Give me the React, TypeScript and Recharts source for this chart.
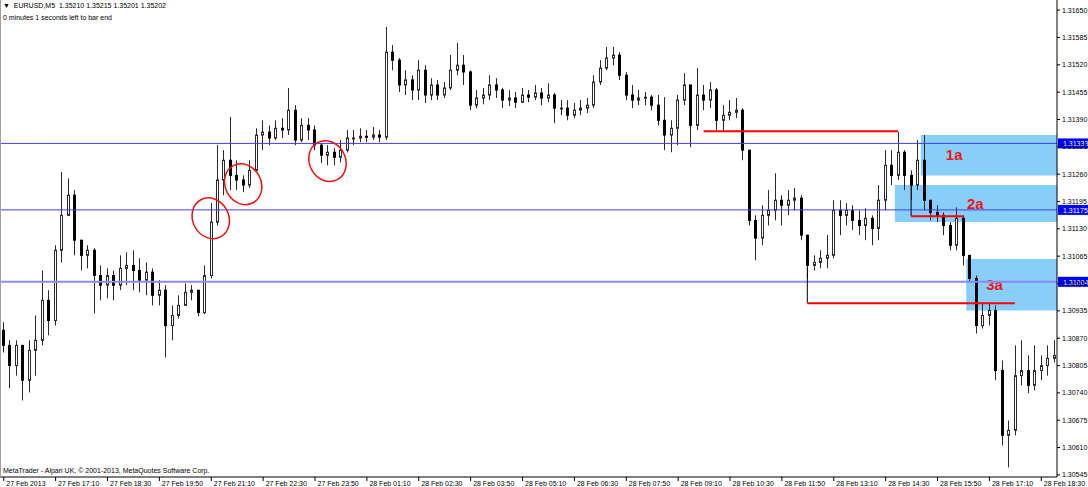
import {
  ComposedChart,
  Bar,
  XAxis,
  YAxis,
  ReferenceLine,
  ReferenceArea,
  ReferenceDot,
} from "recharts";

document.body.style.margin = "0";

// EURUSD bars (10 minute buckets)
const opens = [
  1.30889, 1.30853, 1.30805, 1.30853, 1.30770, 1.30841, 1.30865, 1.30960, 1.30912, 1.31079,
  1.31162, 1.31210, 1.31103, 1.31067, 1.31079, 1.31019, 1.30996, 1.31019, 1.30996, 1.31036,
  1.31043, 1.31031, 1.31008, 1.31027, 1.30972, 1.30984, 1.30900, 1.30924, 1.30948, 1.30979,
  1.30984, 1.30931, 1.31019, 1.31146, 1.31246, 1.31293, 1.31257, 1.31246, 1.31234, 1.31269,
  1.31353, 1.31360, 1.31346, 1.31369, 1.31365, 1.31412, 1.31341, 1.31376, 1.31365, 1.31329,
  1.31305, 1.31312, 1.31300, 1.31317, 1.31346, 1.31346, 1.31350, 1.31348, 1.31353, 1.31348,
  1.31550, 1.31531, 1.31472, 1.31484, 1.31460, 1.31507, 1.31448, 1.31472, 1.31448, 1.31465,
  1.31507, 1.31519, 1.31503, 1.31424, 1.31441, 1.31448, 1.31472, 1.31460, 1.31436, 1.31441,
  1.31431, 1.31448, 1.31443, 1.31453, 1.31441, 1.31448, 1.31417, 1.31417, 1.31400, 1.31412,
  1.31417, 1.31424, 1.31479, 1.31512, 1.31536, 1.31543, 1.31495, 1.31448, 1.31436, 1.31441,
  1.31443, 1.31424, 1.31388, 1.31353, 1.31369, 1.31436, 1.31472, 1.31376, 1.31448, 1.31436,
  1.31460, 1.31388, 1.31400, 1.31407, 1.31412, 1.31317, 1.31150, 1.31108, 1.31162, 1.31174,
  1.31198, 1.31186, 1.31198, 1.31203, 1.31115, 1.31043, 1.31050, 1.31060, 1.31067, 1.31174,
  1.31162, 1.31174, 1.31150, 1.31138, 1.31155, 1.31131, 1.31198, 1.31281, 1.31257, 1.31312,
  1.31257, 1.31234, 1.31293, 1.31198, 1.31169, 1.31162, 1.31138, 1.31091, 1.31155, 1.31067,
  1.31012, 1.30900, 1.30924, 1.30936, 1.30793, 1.30639, 1.30651, 1.30781, 1.30793, 1.30758,
  1.30793, 1.30805, 1.30822,
];
const highs = [
  1.30908, 1.30865, 1.30865, 1.30853, 1.30865, 1.30924, 1.31031, 1.30984, 1.31091, 1.31265,
  1.31250, 1.31222, 1.31103, 1.31091, 1.31084, 1.31043, 1.31036, 1.31031, 1.31067, 1.31074,
  1.31079, 1.31060, 1.31050, 1.31036, 1.31008, 1.30996, 1.30948, 1.30972, 1.31000, 1.30996,
  1.30984, 1.31043, 1.31191, 1.31329, 1.31317, 1.31396, 1.31293, 1.31257, 1.31293, 1.31369,
  1.31388, 1.31376, 1.31388, 1.31393, 1.31465, 1.31424, 1.31393, 1.31393, 1.31376, 1.31334,
  1.31329, 1.31322, 1.31341, 1.31365, 1.31365, 1.31369, 1.31365, 1.31372, 1.31365, 1.31610,
  1.31567, 1.31536, 1.31507, 1.31495, 1.31531, 1.31519, 1.31488, 1.31484, 1.31479, 1.31543,
  1.31572, 1.31543, 1.31507, 1.31460, 1.31465, 1.31495, 1.31488, 1.31465, 1.31460, 1.31455,
  1.31465, 1.31460, 1.31472, 1.31465, 1.31476, 1.31453, 1.31436, 1.31436, 1.31429, 1.31436,
  1.31441, 1.31495, 1.31531, 1.31562, 1.31562, 1.31550, 1.31503, 1.31472, 1.31460, 1.31455,
  1.31448, 1.31448, 1.31443, 1.31388, 1.31448, 1.31500, 1.31472, 1.31512, 1.31472, 1.31479,
  1.31465, 1.31424, 1.31436, 1.31441, 1.31417, 1.31317, 1.31162, 1.31186, 1.31222, 1.31262,
  1.31210, 1.31222, 1.31227, 1.31210, 1.31115, 1.31067, 1.31079, 1.31115, 1.31198, 1.31198,
  1.31191, 1.31186, 1.31174, 1.31179, 1.31162, 1.31234, 1.31317, 1.31317, 1.31360, 1.31317,
  1.31269, 1.31341, 1.31353, 1.31198, 1.31186, 1.31169, 1.31146, 1.31181, 1.31162, 1.31067,
  1.31019, 1.30953, 1.30955, 1.30948, 1.30817, 1.30674, 1.30853, 1.30865, 1.30829, 1.30853,
  1.30829, 1.30853, 1.30865,
];
const lows = [
  1.30836, 1.30751, 1.30781, 1.30722, 1.30741, 1.30781, 1.30853, 1.30877, 1.30900, 1.31050,
  1.31162, 1.31067, 1.31031, 1.31036, 1.30929, 1.30960, 1.30965, 1.30960, 1.30984, 1.30996,
  1.30984, 1.30979, 1.30972, 1.30948, 1.30948, 1.30824, 1.30865, 1.30917, 1.30948, 1.30960,
  1.30922, 1.30927, 1.31012, 1.31138, 1.31210, 1.31222, 1.31222, 1.31217, 1.31227, 1.31265,
  1.31317, 1.31329, 1.31341, 1.31346, 1.31353, 1.31329, 1.31336, 1.31341, 1.31317, 1.31286,
  1.31281, 1.31281, 1.31288, 1.31312, 1.31329, 1.31336, 1.31336, 1.31341, 1.31336, 1.31341,
  1.31507, 1.31455, 1.31448, 1.31436, 1.31436, 1.31429, 1.31436, 1.31436, 1.31441, 1.31460,
  1.31495, 1.31472, 1.31412, 1.31417, 1.31426, 1.31436, 1.31441, 1.31417, 1.31422, 1.31417,
  1.31429, 1.31431, 1.31436, 1.31424, 1.31431, 1.31381, 1.31400, 1.31388, 1.31393, 1.31400,
  1.31405, 1.31417, 1.31472, 1.31507, 1.31519, 1.31484, 1.31436, 1.31417, 1.31424, 1.31424,
  1.31412, 1.31376, 1.31317, 1.31312, 1.31329, 1.31424, 1.31324, 1.31365, 1.31412, 1.31417,
  1.31365, 1.31360, 1.31388, 1.31393, 1.31293, 1.31138, 1.31055, 1.31091, 1.31138, 1.31150,
  1.31138, 1.31162, 1.31174, 1.31103, 1.31012, 1.31031, 1.31036, 1.31036, 1.31060, 1.31115,
  1.31138, 1.31127, 1.31115, 1.31103, 1.31091, 1.31103, 1.31174, 1.31234, 1.31246, 1.31222,
  1.31198, 1.31222, 1.31174, 1.31150, 1.31146, 1.31115, 1.31079, 1.31079, 1.31043, 1.31003,
  1.30881, 1.30893, 1.30900, 1.30770, 1.30615, 1.30563, 1.30639, 1.30758, 1.30739, 1.30746,
  1.30770, 1.30781, 1.30812,
];
const closes = [
  1.30853, 1.30805, 1.30853, 1.30770, 1.30841, 1.30865, 1.30960, 1.30912, 1.31079, 1.31162,
  1.31210, 1.31103, 1.31067, 1.31079, 1.31019, 1.30996, 1.31019, 1.30996, 1.31036, 1.31043,
  1.31031, 1.31008, 1.31027, 1.30972, 1.30984, 1.30900, 1.30924, 1.30948, 1.30979, 1.30984,
  1.30931, 1.31019, 1.31146, 1.31246, 1.31293, 1.31257, 1.31246, 1.31234, 1.31269, 1.31353,
  1.31360, 1.31346, 1.31369, 1.31365, 1.31412, 1.31341, 1.31376, 1.31365, 1.31329, 1.31305,
  1.31312, 1.31300, 1.31317, 1.31346, 1.31346, 1.31350, 1.31348, 1.31353, 1.31348, 1.31550,
  1.31531, 1.31472, 1.31484, 1.31460, 1.31507, 1.31448, 1.31472, 1.31448, 1.31465, 1.31507,
  1.31519, 1.31503, 1.31424, 1.31441, 1.31448, 1.31472, 1.31460, 1.31436, 1.31441, 1.31431,
  1.31448, 1.31443, 1.31453, 1.31441, 1.31448, 1.31417, 1.31417, 1.31400, 1.31412, 1.31417,
  1.31424, 1.31479, 1.31512, 1.31536, 1.31543, 1.31495, 1.31448, 1.31436, 1.31441, 1.31443,
  1.31424, 1.31388, 1.31353, 1.31369, 1.31436, 1.31472, 1.31376, 1.31448, 1.31436, 1.31460,
  1.31388, 1.31400, 1.31407, 1.31412, 1.31317, 1.31150, 1.31108, 1.31162, 1.31174, 1.31198,
  1.31186, 1.31198, 1.31203, 1.31115, 1.31043, 1.31050, 1.31060, 1.31067, 1.31174, 1.31162,
  1.31174, 1.31150, 1.31138, 1.31155, 1.31131, 1.31198, 1.31281, 1.31257, 1.31312, 1.31257,
  1.31234, 1.31293, 1.31198, 1.31169, 1.31162, 1.31138, 1.31091, 1.31155, 1.31067, 1.31012,
  1.30900, 1.30924, 1.30936, 1.30793, 1.30639, 1.30651, 1.30781, 1.30793, 1.30758, 1.30793,
  1.30805, 1.30822, 1.30829,
];

const priceTicks = [
  1.30545, 1.3061, 1.30675, 1.3074, 1.30805, 1.3087, 1.30935, 1.31, 1.31065, 1.3113,
  1.31195, 1.3126, 1.31325, 1.3139, 1.31455, 1.3152, 1.31585, 1.3165,
];

// horizontal levels with their tags on the price scale
const levels = [
  { price: 1.31333, color: "#3f3fff", width: 1 },
  { price: 1.31175, color: "#3f3fff", width: 1 },
  { price: 1.31004, color: "#8a8aff", width: 2 },
];

// zones 1a / 2a / 3a
const zones = [
  { name: "1a", from: "28 Feb 15:30", top: 1.31353, bottom: 1.31257, dx: 25 },
  { name: "2a", from: "28 Feb 14:50", top: 1.31234, bottom: 1.31146, dx: 72 },
  { name: "3a", from: "28 Feb 16:40", top: 1.31058, bottom: 1.30936, dx: 20 },
];

const redLines = [
  { from: "28 Feb 09:50", to: "28 Feb 14:50", price: 1.31362 },
  { from: "28 Feb 15:10", to: "28 Feb 16:30", price: 1.3116 },
  { from: "28 Feb 12:30", to: "28 Feb 17:50", price: 1.30953 },
];
const connectors = [
  { at: "28 Feb 15:10", from: 1.31234, to: 1.3116 },
  { at: "28 Feb 12:30", from: 1.31039, to: 1.30953 },
];

const circles = [
  { at: "27 Feb 21:10", price: 1.31155 },
  { at: "27 Feb 22:00", price: 1.31236 },
  { at: "28 Feb 00:10", price: 1.31291 },
];

const pad = (n: number) => String(n).padStart(2, "0");
const times = closes.map((_, i) => {
  const m = 15 * 60 + 50 + i * 10;
  const day = m >= 1440 ? 28 : 27;
  const mm = m % 1440;
  return `${day} Feb ${pad(Math.floor(mm / 60))}:${pad(mm % 60)}`;
});

const data = closes.map((c, i) => ({
  time: times[i],
  open: opens[i],
  high: highs[i],
  low: lows[i],
  close: c,
  range: [lows[i], highs[i]],
}));

const FONT = '"Liberation Sans", Arial, sans-serif';

const Candle = (props: any) => {
  const { x, y, width, height, payload } = props;
  if (x == null || !payload) return null;
  const top = Math.min(y, y + height);
  const h = Math.abs(height);
  const { open, close, high, low } = payload;
  const span = high - low || 1e-9;
  const toY = (v: number) => top + ((high - v) / span) * h;
  const cx = Math.round(x + width / 2);
  const yo = toY(open);
  const yc = toY(close);
  const bodyTop = Math.min(yo, yc);
  const bodyH = Math.max(Math.abs(yc - yo), 1);
  const up = close >= open;
  return (
    <g>
      <line x1={cx + 0.5} x2={cx + 0.5} y1={top} y2={top + h} stroke="#2a2a2a" strokeWidth={1} />
      <rect
        x={cx - 0.5}
        y={bodyTop}
        width={2}
        height={bodyH}
        fill={up ? "#fff" : "#000"}
        stroke={up ? "#2a2a2a" : "#000"}
        strokeWidth={1}
      />
    </g>
  );
};

const TimeTick = (props: any) => {
  const { x, y, payload, index } = props;
  const label = index === 0 ? "27 Feb 2013" : payload.value;
  return (
    <g>
      <line x1={x + 0.5} x2={x + 0.5} y1={y} y2={y + 4} stroke="#000" />
      <text x={x + 3} y={y + 9} fontSize={7} fontFamily={FONT} fill="#000">
        {label}
      </text>
    </g>
  );
};

const PriceTag = (props: any) => {
  const { viewBox, value } = props;
  if (!viewBox) return null;
  const x = viewBox.x + viewBox.width + 1;
  const y = viewBox.y;
  return (
    <g>
      <rect x={x} y={y - 5} width={32} height={10} fill="#0000ff" />
      <text x={x + 5} y={y + 3} fontSize={7} fontFamily={FONT} fill="#fff">
        {value}
      </text>
    </g>
  );
};

const ZoneLabel = (props: any) => {
  const { viewBox, text, dx } = props;
  if (!viewBox) return null;
  return (
    <text
      x={viewBox.x + dx}
      y={viewBox.y + viewBox.height / 2 + 5}
      fontSize={15}
      fontWeight="bold"
      fontFamily={FONT}
      fill="#f01414"
    >
      {text}
    </text>
  );
};

const RedCircle = (props: any) => (
  <ellipse
    cx={props.cx}
    cy={props.cy}
    rx={18}
    ry={21}
    fill="none"
    stroke="#ee1111"
    strokeWidth={1.5}
    transform={`rotate(-28 ${props.cx} ${props.cy})`}
  />
);

const App = () => {
  return (
    <div style={{ position: "relative", width: 1088, height: 487, background: "#fff", fontFamily: FONT }}>
      <ComposedChart
        width={1088}
        height={487}
        data={data}
        margin={{ top: 0, right: 0, bottom: 0, left: 0 }}
        barCategoryGap={0}
      >
        <XAxis
          dataKey="time"
          height={10}
          interval={7}
          tickSize={0}
          tickMargin={0}
          tickLine={false}
          axisLine={{ stroke: "#000" }}
          tick={<TimeTick />}
        />
        <YAxis
          orientation="right"
          width={31}
          domain={[1.3054, 1.31674]}
          allowDataOverflow
          ticks={priceTicks}
          tickSize={3}
          tickMargin={2}
          axisLine={{ stroke: "#000" }}
          tickLine={{ stroke: "#000" }}
          tick={{ fontSize: 7, fill: "#000", fontFamily: FONT }}
          tickFormatter={(v: number) => v.toFixed(5)}
        />
        {zones.map((z) => (
          <ReferenceArea
            key={z.name}
            x1={z.from}
            y1={z.bottom}
            y2={z.top}
            fill="#87cefa"
            fillOpacity={1}
            stroke="none"
            label={(p: any) => <ZoneLabel {...p} text={z.name} dx={z.dx} />}
          />
        ))}
        {levels.map((l) => (
          <ReferenceLine
            key={l.price}
            y={l.price}
            stroke={l.color}
            strokeWidth={l.width}
            label={(p: any) => <PriceTag {...p} value={l.price.toFixed(5)} />}
          />
        ))}
        <Bar dataKey="range" shape={<Candle />} isAnimationActive={false} />
        {connectors.map((c) => (
          <ReferenceLine
            key={c.at}
            segment={[
              { x: c.at, y: c.from },
              { x: c.at, y: c.to },
            ]}
            stroke="#000"
            strokeWidth={1}
          />
        ))}
        {redLines.map((r) => (
          <ReferenceLine
            key={r.from}
            segment={[
              { x: r.from, y: r.price },
              { x: r.to, y: r.price },
            ]}
            stroke="#ff0000"
            strokeWidth={2}
          />
        ))}
        {circles.map((c) => (
          <ReferenceDot key={c.at} x={c.at} y={c.price} shape={<RedCircle />} />
        ))}
      </ComposedChart>
      <div style={{ position: "absolute", left: 3, top: 1, fontSize: 7, lineHeight: "9px", whiteSpace: "pre" }}>
        {"\u25BC  EURUSD,M5  1.35210 1.35215 1.35201 1.35202"}
      </div>
      <div style={{ position: "absolute", left: 3, top: 13, fontSize: 7, lineHeight: "9px" }}>
        0 minutes 1 seconds left to bar end
      </div>
      <div style={{ position: "absolute", left: 3, top: 466, fontSize: 7, lineHeight: "9px" }}>
        MetaTrader - Alpari UK, © 2001-2013, MetaQuotes Software Corp.
      </div>
      <div style={{ position: "absolute", left: 0, top: 0, width: 1, height: 477, background: "#a0a0a0" }} />
    </div>
  );
};

export default App;
